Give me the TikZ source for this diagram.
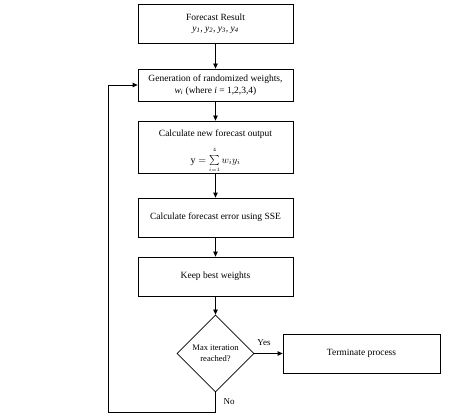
\documentclass[tikz,border=0pt]{standalone}
\usepackage{fontspec}
\setmainfont{Liberation Serif}
\usetikzlibrary{shapes.geometric,arrows.meta}
\begin{document}
\begin{tikzpicture}[x=1pt,y=-1pt,
  box/.style={draw,line width=0.8pt,minimum width=155pt,inner sep=0pt,align=center,font=\fontsize{9.5}{12}\selectfont},
  dec/.style={draw,diamond,line width=0.8pt,minimum width=77pt,minimum height=77pt,inner sep=0pt,aspect=1,align=center,font=\fontsize{8.5}{11}\selectfont},
  arr/.style={-{Triangle[length=5pt,width=4.5pt]},line width=0.8pt},
  lbl/.style={font=\fontsize{9}{11}\selectfont}]
\useasboundingbox (0,0) rectangle (474,417);
\node[box,minimum height=39pt] (b1) at (215.5,23.5) {Forecast Result\\[-1pt] \textit{y\textsubscript{1}, y\textsubscript{2}, y\textsubscript{3}, y\textsubscript{4}}};
\node[box,minimum height=32pt] (b2) at (215.5,85) {Generation of randomized weights,\\ \textit{w\textsubscript{i}} (where \textit{i} = 1,2,3,4)};
\node[box,minimum height=52pt] (b3) at (215.5,147) {};
\node[inner sep=0pt,font=\fontsize{9.5}{12}\selectfont] (b3a) at (215.5,134) {Calculate new forecast output};
\node[inner sep=0pt,font=\fontsize{10}{12}\selectfont] (b3b) at (215.5,160) {$\mathrm{y}=\mathop{\sum}\limits_{\scriptscriptstyle i=1}^{\raisebox{2pt}{$\scriptscriptstyle 4$}} w_i y_i$};
\node[box,minimum height=39pt] (b4) at (215.5,217.5) {Calculate forecast error using SSE};
\node[box,minimum height=39pt] (b5) at (215.5,276.5) {Keep best weights};
\node[dec] (d) at (215.5,353.5) {Max iteration\\ reached?};
\node[box,minimum width=157pt,minimum height=39pt] (t) at (361.5,353.5) {Terminate process};
\draw[arr] (b1) -- (b2);
\draw[arr] (b2) -- (b3);
\draw[arr] (b3) -- (b4);
\draw[arr] (b4) -- (b5);
\draw[arr] (b5) -- (d);
\draw[arr] (d) -- (t);
\coordinate (c1) at (215.5,412);
\coordinate (c2) at (108,412);
\draw[arr] (d.south) -- (c1) -- (c2) |- (b2.west);
\node[lbl] (yes) at (264,343) {Yes};
\node[lbl] (no) at (229,402) {No};
\end{tikzpicture}
\end{document}
